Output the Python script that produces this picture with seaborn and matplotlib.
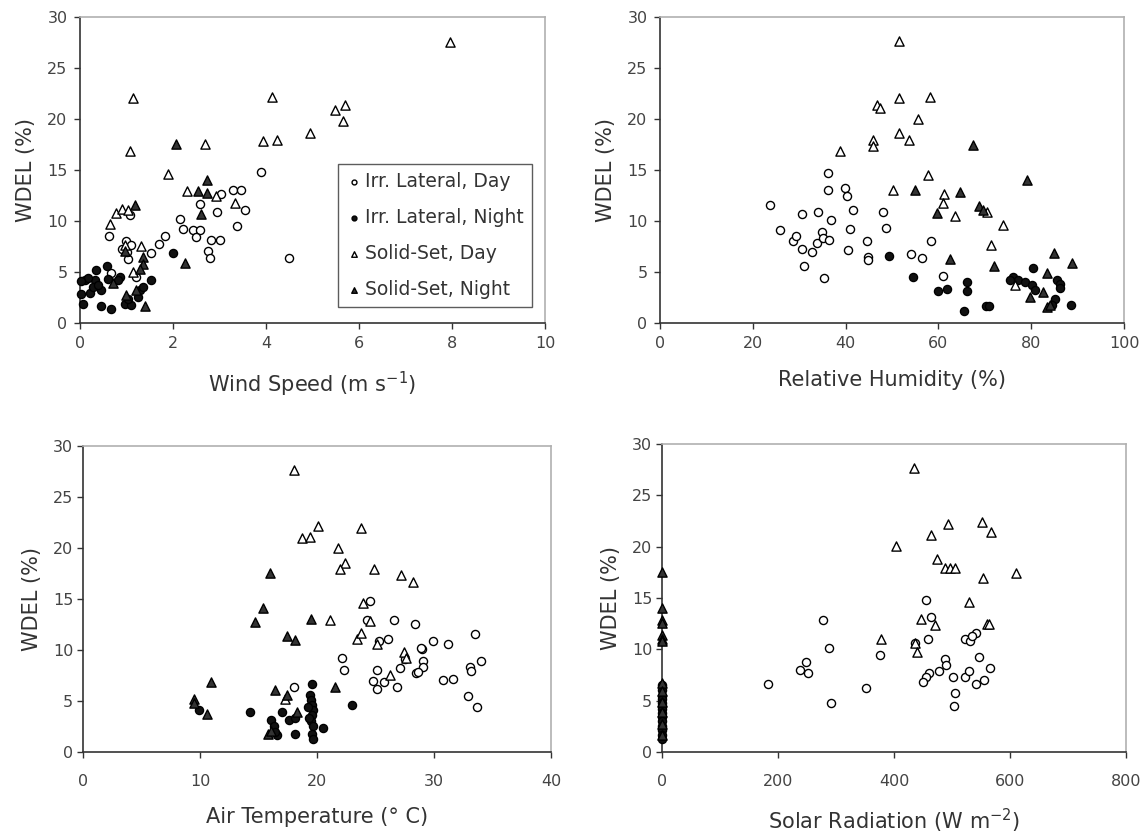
import matplotlib
matplotlib.use('Agg')
import matplotlib.pyplot as plt
import seaborn as sns

sns.set_theme(style="white")
plt.rcParams['font.family'] = ['DejaVu Sans']

# ---- data (x, WDEL %) ----
# Wind speed (m/s)
ws_lat_day_x = [0.62, 0.99, 1.03, 1.02, 1.07, 1.53, 1.70, 1.82, 2.14, 2.21, 2.42, 2.57, 2.50, 2.57, 2.95,
                2.82, 3.00, 2.75, 2.79, 3.04, 3.29, 3.47, 3.54, 3.38, 4.49, 3.89, 1.21, 0.67, 1.10, 0.90]
ws_lat_day_y = [8.5, 8.0, 6.3, 7.0, 10.6, 6.9, 7.7, 8.5, 10.2, 9.2, 9.1, 9.1, 8.4, 11.7, 10.9,
                8.1, 8.1, 7.1, 6.4, 12.6, 13.0, 13.0, 11.1, 9.5, 6.4, 14.8, 4.5, 4.9, 7.6, 7.3]
ws_lat_night_x = [0.10, 0.07, 0.21, 0.35, 0.57, 0.32, 0.46, 0.46, 0.67, 0.85, 0.82, 0.28, 0.96, 1.10,
                  1.28, 1.35, 1.53, 1.99, 0.17, 0.03, 0.39, 1.03, 1.25, 0.02, 0.60]
ws_lat_night_y = [4.2, 1.9, 2.9, 5.2, 5.6, 4.2, 3.2, 1.7, 1.35, 4.55, 4.2, 3.55, 1.9, 1.8,
                  3.2, 3.5, 4.2, 6.9, 4.4, 2.8, 3.7, 2.4, 2.6, 4.1, 4.3]
ws_ss_day_x = [1.14, 1.07, 1.89, 2.68, 3.93, 4.24, 4.12, 0.64, 0.78, 0.91, 1.03, 1.32, 0.96, 2.31,
               2.93, 3.33, 7.96, 4.95, 5.48, 5.70, 5.66, 1.14]
ws_ss_day_y = [22.1, 16.9, 14.6, 17.5, 17.8, 17.9, 22.2, 9.7, 10.75, 11.2, 11.1, 7.55, 7.6, 12.9,
               12.5, 11.8, 27.5, 18.6, 20.9, 21.4, 19.8, 5.0]
ws_ss_night_x = [2.07, 2.73, 2.54, 2.73, 2.61, 1.19, 2.25, 1.39, 1.36, 1.36, 0.96, 0.71, 0.99, 1.30, 1.21]
ws_ss_night_y = [17.5, 14.05, 12.9, 12.75, 10.7, 11.6, 5.85, 1.67, 6.5, 5.8, 7.1, 3.9, 2.75, 5.3, 3.2]

# Relative humidity (%)
rh_lat_day_x = [23.7, 25.9, 28.7, 29.3, 30.5, 30.5, 31.0, 32.7, 33.8, 34.1, 35.0, 35.2, 36.5, 35.3, 36.1,
                36.1, 36.9, 39.9, 40.2, 40.9, 40.6, 41.6, 44.7, 44.9, 44.9, 48.1, 48.7, 58.3, 54.1,
                56.4, 61.0]
rh_lat_day_y = [11.6, 9.1, 8.0, 8.5, 10.7, 7.3, 5.6, 7.0, 7.8, 10.9, 8.9, 8.3, 8.1, 4.4, 13.0,
                14.7, 10.1, 13.2, 12.5, 9.2, 7.2, 11.1, 8.0, 6.5, 6.2, 10.9, 9.3, 8.0, 6.8,
                6.4, 4.6]
rh_lat_night_x = [49.4, 54.5, 60.0, 61.8, 66.1, 66.2, 65.6, 70.2, 70.8, 80.3, 76.1, 77.2, 78.7, 80.1,
                  80.8, 85.1, 84.4, 85.5, 86.2, 86.2, 88.5, 75.4]
rh_lat_night_y = [6.6, 4.5, 3.1, 3.3, 4.0, 3.1, 1.2, 1.7, 1.7, 5.4, 4.5, 4.2, 4.0, 3.7,
                  3.2, 2.4, 1.8, 4.2, 3.8, 3.4, 1.8, 4.2]
rh_ss_day_x = [38.8, 51.6, 51.6, 58.2, 46.7, 47.4, 55.7, 51.6, 53.7, 46.0, 46.0, 57.8, 50.3, 61.3,
               61.0, 63.6, 70.4, 74.0, 71.4, 76.5]
rh_ss_day_y = [16.9, 27.6, 22.1, 22.2, 21.4, 21.1, 20.0, 18.6, 17.9, 17.9, 17.4, 14.5, 13.0, 12.6,
               11.8, 10.5, 10.9, 9.6, 7.6, 3.7]
rh_ss_night_x = [67.4, 79.0, 54.9, 64.6, 59.6, 68.8, 69.7, 62.5, 72.0, 84.8, 88.7, 83.3, 79.7, 82.6,
                 83.3, 84.0]
rh_ss_night_y = [17.45, 14.0, 13.0, 12.8, 10.8, 11.5, 11.1, 6.3, 5.6, 6.9, 5.9, 4.9, 2.6, 3.0,
                 1.6, 1.8]

# Air temperature (deg C)
at_lat_day_x = [24.5, 24.3, 26.6, 28.4, 33.5, 26.1, 25.3, 29.9, 31.2, 29.0, 29.1, 29.1, 27.5, 27.1,
                28.5, 33.1, 33.2, 34.0, 30.8, 31.6, 32.9, 33.7, 22.1, 22.3, 25.1, 24.8, 25.1, 25.7,
                26.8, 18.0, 28.6, 28.9]
at_lat_day_y = [14.8, 12.9, 12.9, 12.5, 11.6, 11.1, 10.9, 10.9, 10.6, 10.1, 8.9, 8.3, 9.1, 8.2,
                7.7, 8.3, 7.9, 8.9, 7.1, 7.2, 5.5, 4.4, 9.2, 8.0, 8.0, 7.0, 6.2, 6.9,
                6.4, 6.4, 7.8, 10.2]
at_lat_night_x = [14.3, 9.9, 19.6, 23.0, 19.4, 19.5, 19.6, 19.7, 19.6, 19.5, 19.7, 19.6, 19.7, 20.5,
                  17.0, 17.6, 18.1, 16.1, 16.3, 16.6, 18.1, 19.3, 19.2, 16.4]
at_lat_night_y = [3.95, 4.1, 6.7, 4.6, 5.6, 5.1, 4.6, 4.1, 3.6, 3.0, 2.5, 1.8, 1.3, 2.4,
                  3.95, 3.1, 3.3, 3.1, 2.5, 1.7, 1.75, 3.3, 4.4, 2.0]
at_ss_day_x = [18.0, 20.1, 23.8, 18.7, 19.4, 21.8, 22.4, 22.0, 24.9, 27.2, 28.2, 21.1, 23.9, 24.5,
               23.4, 23.8, 25.1, 27.4, 26.2, 27.6, 17.3]
at_ss_day_y = [27.6, 22.2, 22.0, 21.0, 21.1, 20.0, 18.5, 17.9, 17.9, 17.4, 16.7, 12.9, 14.6, 12.8,
               11.1, 11.7, 10.6, 9.8, 7.5, 9.2, 5.2]
at_ss_night_x = [16.0, 15.4, 14.7, 17.4, 18.1, 19.5, 10.9, 9.5, 9.5, 10.6, 16.4, 21.5, 18.3, 15.8,
                 16.1, 17.4]
at_ss_night_y = [17.5, 14.1, 12.7, 11.4, 11.0, 13.0, 6.9, 5.2, 4.8, 3.7, 6.1, 6.4, 3.95, 1.8,
                 2.1, 5.6]

# Solar radiation (W m-2)
sr_lat_day_x = [455, 463, 459, 436, 375, 351, 523, 531, 541, 534, 488, 489, 478, 460, 455, 450, 501,
                506, 504, 523, 530, 541, 556, 547, 566, 182, 278, 288, 238, 248, 252, 291]
sr_lat_day_y = [14.8, 13.1, 11.0, 10.6, 9.4, 6.2, 11.0, 10.8, 11.6, 11.3, 9.1, 8.5, 7.9, 7.7, 7.3,
                6.8, 7.3, 5.7, 4.5, 7.3, 7.9, 6.6, 7.0, 9.3, 8.2, 6.6, 12.9, 10.1, 8.0, 8.8, 7.7, 4.8]
sr_lat_night_x = [0] * 14
sr_lat_night_y = [6.5, 6.0, 5.5, 5.2, 4.8, 4.5, 4.2, 3.8, 3.4, 3.0, 2.5, 2.1, 1.7, 1.3]
sr_ss_day_x = [434, 493, 551, 567, 464, 403, 474, 488, 497, 505, 611, 554, 529, 446, 561, 564, 470,
               377, 437, 440]
sr_ss_day_y = [27.7, 22.2, 22.4, 21.4, 21.1, 20.1, 18.8, 17.9, 17.9, 17.9, 17.4, 16.9, 14.6, 13.0,
               12.5, 12.5, 12.4, 11.0, 10.6, 9.7]
sr_ss_night_x = [0] * 13
sr_ss_night_y = [17.5, 14.0, 12.9, 12.6, 11.4, 11.0, 10.8, 6.7, 5.9, 4.9, 3.9, 2.7, 1.7]

labels = ['Irr. Lateral, Day', 'Irr. Lateral, Night', 'Solid-Set, Day', 'Solid-Set, Night']

panels = [
    dict(series=[(ws_lat_day_x, ws_lat_day_y), (ws_lat_night_x, ws_lat_night_y),
                 (ws_ss_day_x, ws_ss_day_y), (ws_ss_night_x, ws_ss_night_y)],
         xlim=(0, 10), xticks=[0, 2, 4, 6, 8, 10], xlabel='Wind Speed (m s$^{-1}$)'),
    dict(series=[(rh_lat_day_x, rh_lat_day_y), (rh_lat_night_x, rh_lat_night_y),
                 (rh_ss_day_x, rh_ss_day_y), (rh_ss_night_x, rh_ss_night_y)],
         xlim=(0, 100), xticks=[0, 20, 40, 60, 80, 100], xlabel='Relative Humidity (%)'),
    dict(series=[(at_lat_day_x, at_lat_day_y), (at_lat_night_x, at_lat_night_y),
                 (at_ss_day_x, at_ss_day_y), (at_ss_night_x, at_ss_night_y)],
         xlim=(0, 40), xticks=[0, 10, 20, 30, 40], xlabel='Air Temperature (° C)'),
    dict(series=[(sr_lat_day_x, sr_lat_day_y), (sr_lat_night_x, sr_lat_night_y),
                 (sr_ss_day_x, sr_ss_day_y), (sr_ss_night_x, sr_ss_night_y)],
         xlim=(0, 800), xticks=[0, 200, 400, 600, 800], xlabel='Solar Radiation (W m$^{-2}$)'),
]

# marker, face, size per series
styles = [('o', 'white', 34), ('o', '#111111', 34), ('^', 'white', 44), ('^', '#333333', 44)]

# axes rectangles [left, bottom, width, height] in figure fractions
rects = [
    [0.0699, 0.6136, 0.4062, 0.3661],
    [0.5764, 0.6136, 0.4053, 0.3661],
    [0.0725, 0.1005, 0.4087, 0.3660],
    [0.5782, 0.1005, 0.4052, 0.3684],
]

fig = plt.figure(figsize=(11.45, 8.36), dpi=100)

for i, (p, r) in enumerate(zip(panels, rects)):
    ax = fig.add_axes(r)
    for j, ((xs, ys), (mk, fc, sz)) in enumerate(zip(p['series'], styles)):
        sns.scatterplot(x=xs, y=ys, ax=ax, marker=mk, color=fc, edgecolor='black',
                        linewidth=1.0, s=sz, clip_on=False, zorder=3,
                        label=labels[j] if i == 0 else None, legend=False)
    ax.set_xlim(*p['xlim'])
    ax.set_ylim(0, 30)
    ax.set_xticks(p['xticks'])
    ax.set_yticks([0, 5, 10, 15, 20, 25, 30])
    for side in ['left', 'bottom']:
        ax.spines[side].set_color('#333333')
        ax.spines[side].set_linewidth(1.2)
    for side in ['top', 'right']:
        ax.spines[side].set_color('#b0b0b0')
        ax.spines[side].set_linewidth(1.2)
    top_row = i < 2
    ax.tick_params(axis='both', direction='out', length=4, width=1, color='#333333',
                   labelcolor='#444444', labelsize=11.5, bottom=True, left=True,
                   top=False, right=False)
    ax.tick_params(axis='x', pad=5 if top_row else 12)
    ax.tick_params(axis='y', pad=5 if top_row else 3)
    ax.set_xlabel(p['xlabel'], fontsize=15, color='#333333', labelpad=14 if top_row else 13)
    ax.set_ylabel('WDEL (%)', fontsize=15, color='#333333', labelpad=8)
    ax.grid(False)

    if i == 0:
        leg = ax.legend(loc='lower right', bbox_to_anchor=(0.972, 0.052), fontsize=13.5,
                        frameon=True, fancybox=False, edgecolor='#333333', markerscale=0.6,
                        handletextpad=0.2, handlelength=0.8, labelspacing=0.9,
                        borderpad=0.45, borderaxespad=0)
        leg.get_frame().set_linewidth(1.0)
        for t in leg.get_texts():
            t.set_color('#333333')

fig.savefig('out.png', dpi=100, facecolor='white')
